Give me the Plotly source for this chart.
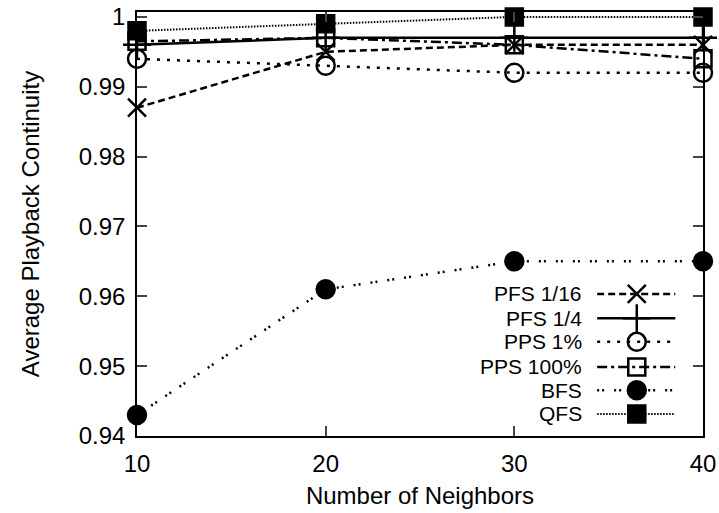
import plotly.graph_objects as go

neighbors = [10, 20, 30, 40]
pfs_1_16 = [0.987, 0.995, 0.996, 0.996]
pfs_1_4 = [0.996, 0.997, 0.997, 0.997]
pps_1 = [0.994, 0.993, 0.992, 0.992]
pps_100 = [0.9965, 0.997, 0.996, 0.994]
bfs = [0.943, 0.961, 0.965, 0.965]
qfs = [0.998, 0.999, 1.0, 1.0]

series_names = ["PFS 1/16", "PFS 1/4", "PPS 1%", "PPS 100%", "BFS", "QFS"]
series_values = [pfs_1_16, pfs_1_4, pps_1, pps_100, bfs, qfs]

y_ticks = [0.94, 0.95, 0.96, 0.97, 0.98, 0.99, 1.0]
y_ticktext = ["0.94", "0.95", "0.96", "0.97", "0.98", "0.99", "1"]
x_ticks = [10, 20, 30, 40]

styles = [
    dict(dash="7px,4px", symbol="x-thin-open", size=18, lw=2.5),
    dict(dash="solid", symbol="cross-thin-open", size=20, lw=2.5),
    dict(dash="3px,7px", symbol="circle-open", size=18, lw=2.5),
    dict(dash="10px,4px,3px,4px", symbol="square-open", size=17, lw=2.5),
    dict(dash="2px,3px,2px,10px", symbol="circle", size=18, lw=2.5),
    dict(dash="1.5px,1.5px", symbol="square", size=17, lw=2),
]

FONT = "Liberation Sans, Arial, sans-serif"
FS = 24
LEG_FS = 21
fig = go.Figure()

for name, vals, st in zip(series_names, series_values, styles):
    fig.add_trace(go.Scatter(
        x=neighbors, y=vals, mode="lines+markers", name=name, showlegend=False,
        cliponaxis=False,
        line=dict(color="black", width=st["lw"], dash=st["dash"]),
        marker=dict(symbol=st["symbol"], size=st["size"], color="black",
                    line=dict(color="black", width=2.5)),
    ))

# gnuplot-style legend: right-aligned text with sample to the right
leg_y = [0.335, 0.278, 0.222, 0.163, 0.108, 0.052]
for name, st, yy in zip(series_names, styles, leg_y):
    fig.add_trace(go.Scatter(
        x=[0.813, 0.883, 0.951], y=[yy, yy, yy], mode="lines", xaxis="x2", yaxis="y2",
        showlegend=False, hoverinfo="skip",
        line=dict(color="black", width=st["lw"], dash=st["dash"]),
    ))
    fig.add_trace(go.Scatter(
        x=[0.883], y=[yy], mode="markers", xaxis="x2", yaxis="y2",
        showlegend=False, hoverinfo="skip",
        marker=dict(symbol=st["symbol"], size=st["size"], color="black",
                    line=dict(color="black", width=2.5)),
    ))
    fig.add_annotation(x=0.788, y=yy, xref="x2", yref="y2", text=name, showarrow=False,
                       xanchor="right", yanchor="middle", borderpad=0,
                       font=dict(family=FONT, size=LEG_FS, color="black"))

fig.update_layout(
    width=719, height=513,
    margin=dict(l=137, r=16, t=12, b=77),
    paper_bgcolor="white", plot_bgcolor="white",
    font=dict(family=FONT, size=FS, color="black"),
    xaxis=dict(range=[10, 40], tickvals=x_ticks, ticks="inside", ticklen=10,
               tickwidth=1.5, mirror="allticks", showline=True, linecolor="black",
               linewidth=1.5, showgrid=False, zeroline=False, ticklabelstandoff=5,
               automargin=False,
               title=dict(text="Number of Neighbors", font=dict(size=FS), standoff=12)),
    yaxis=dict(range=[0.94, 1.0007], tickvals=y_ticks, ticktext=y_ticktext,
               ticks="inside", ticklen=10, tickwidth=1.5, mirror="allticks",
               showline=True, linecolor="black", linewidth=1.5, showgrid=False,
               zeroline=False, ticklabelstandoff=5, automargin=False,
               title=dict(text="Average Playback Continuity", font=dict(size=FS), standoff=32)),
    xaxis2=dict(range=[0, 1], overlaying="x", visible=False),
    yaxis2=dict(range=[0, 1], overlaying="y", visible=False),
)

fig.write_html("out.html")
